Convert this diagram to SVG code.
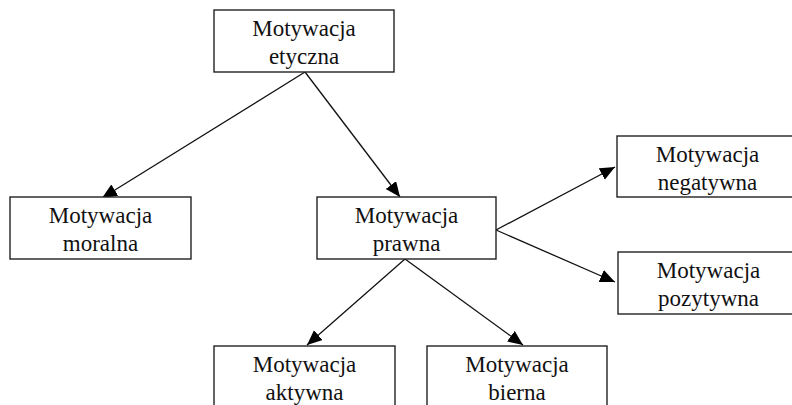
<svg xmlns="http://www.w3.org/2000/svg" width="792" height="405" viewBox="0 0 792 405">
<style>
.box{fill:#fff;stroke:#222;stroke-width:1.4}
.t{font-family:"Liberation Serif","Times New Roman",serif;font-size:23px;fill:#111;text-anchor:middle}
.c{stroke:#111;stroke-width:1.3;fill:none;marker-end:url(#ah)}
</style>
<defs>
<marker id="ah" markerUnits="userSpaceOnUse" markerWidth="16" markerHeight="14" refX="15" refY="6.5" orient="auto">
<path d="M0,0 L15,6.5 L0,13 Z" fill="#000"/>
</marker>
</defs>
<rect width="792" height="405" fill="#fff"/>
<g id="connectors">
<line class="c" x1="305" y1="72" x2="102" y2="198"/>
<line class="c" x1="305" y1="72" x2="400" y2="197"/>
<line class="c" x1="496" y1="230" x2="615" y2="167"/>
<line class="c" x1="496" y1="230" x2="615" y2="282"/>
<line class="c" x1="405" y1="259" x2="307" y2="345"/>
<line class="c" x1="405" y1="259" x2="523" y2="345"/>
</g>
<g id="etyczna">
<rect class="box" x="214" y="10" width="180" height="62"/>
<text class="t" x="304" y="36">Motywacja</text>
<text class="t" x="304" y="63.5">etyczna</text>
</g>
<g id="moralna">
<rect class="box" x="10" y="197" width="181" height="62"/>
<text class="t" x="100.5" y="223">Motywacja</text>
<text class="t" x="100.5" y="250.5">moralna</text>
</g>
<g id="prawna">
<rect class="box" x="317" y="197" width="179" height="62"/>
<text class="t" x="406.5" y="223">Motywacja</text>
<text class="t" x="406.5" y="250.5">prawna</text>
</g>
<g id="negatywna">
<rect class="box" x="617" y="136" width="181" height="61"/>
<text class="t" x="707.5" y="162">Motywacja</text>
<text class="t" x="707.5" y="189.5">negatywna</text>
</g>
<g id="pozytywna">
<rect class="box" x="618" y="252" width="181" height="62"/>
<text class="t" x="708.5" y="278">Motywacja</text>
<text class="t" x="708.5" y="305.5">pozytywna</text>
</g>
<g id="aktywna">
<rect class="box" x="214" y="346" width="181" height="70"/>
<text class="t" x="304.5" y="372">Motywacja</text>
<text class="t" x="304.5" y="399.5">aktywna</text>
</g>
<g id="bierna">
<rect class="box" x="427" y="346" width="180" height="70"/>
<text class="t" x="517" y="372">Motywacja</text>
<text class="t" x="517" y="399.5">bierna</text>
</g>
</svg>
